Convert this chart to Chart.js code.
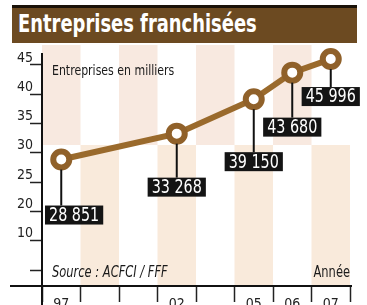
<!DOCTYPE html>
<html lang="fr">
<head>
    <meta charset="UTF-8">
    <title>Entreprises franchisées</title>
    <script src="https://cdn.jsdelivr.net/npm/chart.js"></script>
    <style>
        * {
            margin: 0;
            padding: 0;
            box-sizing: border-box;
        }
        body {
            background: #ffffff;
            width: 367px;
            height: 305px;
            overflow: hidden;
            position: relative;
            font-family: "Liberation Sans Narrow", "DejaVu Sans Condensed", Arial, sans-serif;
        }
        .title-bar {
            position: absolute;
            left: 12px;
            top: 5px;
            width: 345px;
            height: 38px;
            background: #6c4a21;
            border-top: 3px solid #1a1208;
            color: #ffffff;
            font-weight: bold;
            font-size: 24px;
            line-height: 33px;
            padding-left: 6px;
            z-index: 2;
            white-space: nowrap;
        }
        .title-bar span {
            display: inline-block;
            transform: scaleX(0.83);
            transform-origin: left center;
        }
        .chart-box {
            position: absolute;
            left: 0;
            top: 0;
            width: 367px;
            height: 305px;
        }
    </style>
</head>
<body>
    <div class="title-bar"><span>Entreprises franchisées</span></div>
    <div class="chart-box">
        <canvas id="franchiseChart"></canvas>
    </div>

    <script>
        const FONT = '"Liberation Sans Narrow", "DejaVu Sans Condensed", Arial, sans-serif';

        // years on the axis (blank slots are the unlabelled years)
        const years = ['97', '', '', '02', '', '05', '06', '07'];
        // number of franchised companies, in thousands
        const franchises = [28.851, null, null, 33.268, null, 39.150, 43.680, 45.996];
        // y axis as printed (the "10" sits where 15 would be)
        const yTickValues = [10, 15, 20, 25, 30, 35, 40, 45];
        const yTickLabels = ['', '10', '20', '25', '30', '35', '40', '45'];

        // how far below each point its label box hangs (px)
        const labelDrop = [46, 0, 0, 44, 0, 53, 45, 28];

        function formatValue(v) {
            const n = String(Math.round(v * 1000));
            return n.slice(0, -3) + ' ' + n.slice(-3);
        }

        // draw text squeezed horizontally, to get the narrow print look
        function narrowText(ctx, text, x, y, sx) {
            ctx.save();
            ctx.translate(x, y);
            ctx.scale(sx, 1);
            ctx.fillText(text, 0, 0);
            ctx.restore();
        }

        const decorPlugin = {
            id: 'decor',
            beforeDatasetsDraw(chart) {
                const { ctx, chartArea } = chart;
                const x = chart.scales.x;
                const colW = (chartArea.right - chartArea.left) / years.length;
                const top = chartArea.top - 7;
                const split = chartArea.top + 93;
                ctx.save();
                for (let i = 0; i < years.length; i++) {
                    const left = x.getPixelForValue(i) - colW / 2;
                    if (i % 2 === 0) {
                        ctx.fillStyle = '#f8e9e0';
                        ctx.fillRect(left, top, colW, split - top);
                    } else {
                        ctx.fillStyle = '#f9eadb';
                        ctx.fillRect(left, split, colW, chartArea.bottom - split);
                    }
                }
                // axes
                ctx.strokeStyle = '#111';
                ctx.lineWidth = 2;
                ctx.beginPath();
                ctx.moveTo(10, chartArea.bottom);
                ctx.lineTo(chartArea.right + 2, chartArea.bottom);
                ctx.moveTo(chartArea.left, chartArea.top + 1);
                ctx.lineTo(chartArea.left, chart.height);
                ctx.stroke();

                ctx.fillStyle = '#1a1a1a';
                ctx.font = '14px ' + FONT;
                ctx.textBaseline = 'alphabetic';
                ctx.textAlign = 'left';
                narrowText(ctx, 'Entreprises en milliers', chartArea.left + 10, chartArea.top + 23, 0.87);
                ctx.font = 'italic 15px ' + FONT;
                narrowText(ctx, 'Source : ACFCI / FFF', chartArea.left + 10, chartArea.bottom - 9, 0.85);
                ctx.font = '15px ' + FONT;
                ctx.textAlign = 'right';
                narrowText(ctx, 'Année', chartArea.right, chartArea.bottom - 9, 0.85);
                ctx.restore();
            },
            afterDatasetsDraw(chart) {
                const { ctx, chartArea } = chart;
                const meta = chart.getDatasetMeta(0);
                const sx = 0.84;
                ctx.save();
                ctx.font = '19px ' + FONT;
                ctx.textBaseline = 'middle';
                ctx.textAlign = 'center';
                meta.data.forEach((pt, i) => {
                    const v = franchises[i];
                    if (v === null) return;
                    const text = formatValue(v);
                    const w = ctx.measureText(text).width * sx + 8;
                    const h = 19;
                    const boxTop = pt.y + labelDrop[i];
                    let left = pt.x - w / 2;
                    if (left < chartArea.left + 3) left = chartArea.left + 3;
                    if (left + w > chart.width - 4) left = chart.width - 4 - w;

                    ctx.strokeStyle = '#111';
                    ctx.lineWidth = 2;
                    ctx.beginPath();
                    ctx.moveTo(pt.x, pt.y + 10);
                    ctx.lineTo(pt.x, boxTop);
                    ctx.stroke();

                    ctx.fillStyle = '#141414';
                    ctx.fillRect(left, boxTop, w, h);
                    ctx.fillStyle = '#ffffff';
                    narrowText(ctx, text, left + w / 2, boxTop + h / 2 + 1, sx);
                });
                ctx.restore();
            }
        };

        new Chart(document.getElementById('franchiseChart').getContext('2d'), {
            type: 'line',
            data: {
                labels: years,
                datasets: [{
                    data: franchises,
                    spanGaps: true,
                    borderColor: '#9a6a2c',
                    borderWidth: 6,
                    pointRadius: 8,
                    pointBorderWidth: 6,
                    pointBackgroundColor: '#ffffff',
                    pointBorderColor: '#90612a',
                    tension: 0,
                    clip: false
                }]
            },
            options: {
                responsive: true,
                maintainAspectRatio: false,
                animation: false,
                layout: { padding: { top: 52, right: 17, left: 0, bottom: 0 } },
                plugins: {
                    legend: { display: false },
                    tooltip: { enabled: false }
                },
                scales: {
                    x: {
                        offset: true,
                        grid: {
                            offset: true,
                            drawOnChartArea: false,
                            tickLength: 16,
                            tickColor: '#222',
                            tickWidth: 1.5
                        },
                        border: { display: false },
                        ticks: {
                            autoSkip: false,
                            maxRotation: 0,
                            padding: -6,
                            color: '#222',
                            font: { family: FONT, size: 14 }
                        },
                        afterFit(scale) { scale.height = 19; }
                    },
                    y: {
                        min: 7.27,
                        max: 47.2,
                        afterBuildTicks(scale) {
                            scale.ticks = yTickValues.map(v => ({ value: v }));
                        },
                        afterFit(scale) { scale.width = 42; },
                        grid: {
                            drawOnChartArea: false,
                            tickLength: 12,
                            tickColor: '#222',
                            tickWidth: 1.5
                        },
                        border: { display: false },
                        ticks: {
                            padding: -3,
                            labelOffset: -7,
                            color: '#222',
                            font: { family: FONT, size: 14 },
                            callback: (val, i) => yTickLabels[i]
                        }
                    }
                }
            },
            plugins: [decorPlugin]
        });
    </script>
</body>
</html>
